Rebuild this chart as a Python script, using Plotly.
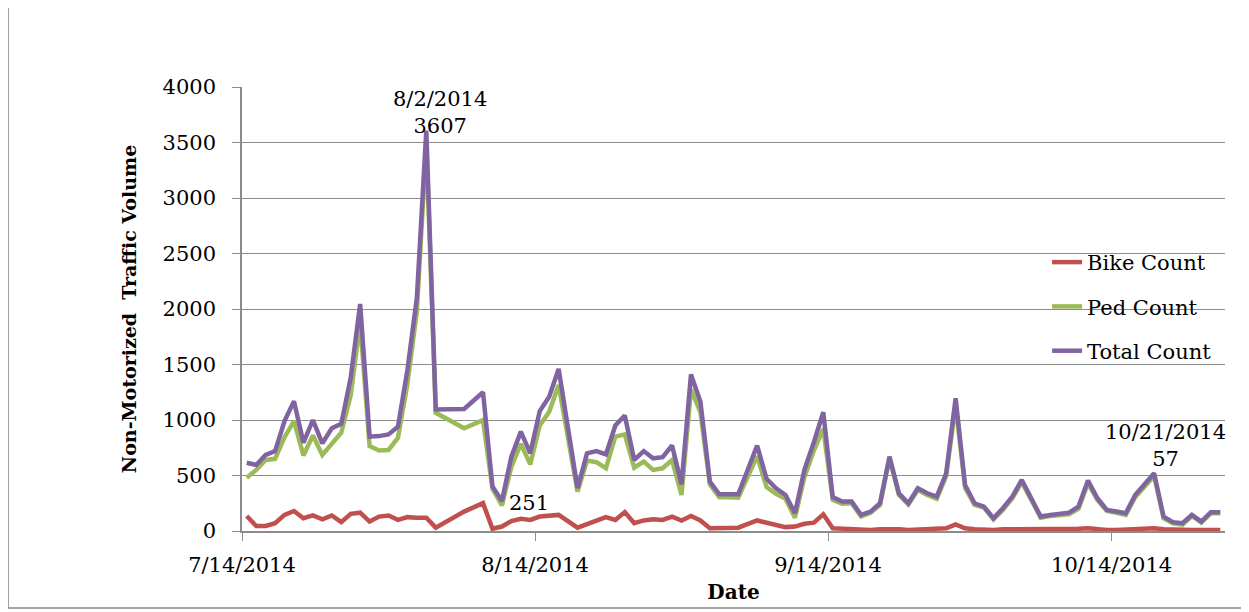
import plotly.graph_objects as go

# daily counts (some days missing in the source, Excel just joins the line across them)
dates = ['2014-07-14', '2014-07-15', '2014-07-16', '2014-07-17', '2014-07-18', '2014-07-19',
         '2014-07-20', '2014-07-21', '2014-07-22', '2014-07-23', '2014-07-24', '2014-07-25',
         '2014-07-26', '2014-07-27', '2014-07-28', '2014-07-29', '2014-07-30', '2014-07-31',
         '2014-08-01', '2014-08-02', '2014-08-03', '2014-08-06', '2014-08-08', '2014-08-09',
         '2014-08-10', '2014-08-11', '2014-08-12', '2014-08-13', '2014-08-14', '2014-08-15',
         '2014-08-16', '2014-08-18', '2014-08-19', '2014-08-20', '2014-08-21', '2014-08-22',
         '2014-08-23', '2014-08-24', '2014-08-25', '2014-08-26', '2014-08-27', '2014-08-28',
         '2014-08-29', '2014-08-30', '2014-08-31', '2014-09-01', '2014-09-02', '2014-09-03',
         '2014-09-04', '2014-09-06', '2014-09-07', '2014-09-08', '2014-09-09', '2014-09-10',
         '2014-09-11', '2014-09-12', '2014-09-13', '2014-09-14', '2014-09-15', '2014-09-16',
         '2014-09-17', '2014-09-18', '2014-09-19', '2014-09-20', '2014-09-21', '2014-09-22',
         '2014-09-23', '2014-09-24', '2014-09-25', '2014-09-26', '2014-09-27', '2014-09-28',
         '2014-09-29', '2014-09-30', '2014-10-01', '2014-10-02', '2014-10-03', '2014-10-04',
         '2014-10-05', '2014-10-06', '2014-10-07', '2014-10-08', '2014-10-09', '2014-10-10',
         '2014-10-11', '2014-10-12', '2014-10-13', '2014-10-14', '2014-10-15', '2014-10-16',
         '2014-10-17', '2014-10-18', '2014-10-19', '2014-10-20', '2014-10-21', '2014-10-22',
         '2014-10-23', '2014-10-24', '2014-10-25']

bike = [135, 45, 45, 70, 145, 180, 115, 140, 105, 140, 80, 155, 165, 85, 130, 140, 100, 125,
        120, 120, 30, 175, 251, 20, 40, 90, 110, 100, 130, 135, 145,
        30, 65, 100, 125, 100, 170, 70, 95, 105, 100, 130, 95, 135, 95,
        25, 25, 25, 30,
        95, 75, 50, 35, 40, 65, 75, 150, 25, 20, 15, 15, 10, 15, 20, 15, 10, 15, 15, 20, 25, 60,
        25, 15, 10,
        10, 15, 15, 20, 15, 10, 10, 15, 15, 20, 25, 15, 10, 10, 15, 20, 30, 25, 15, 10, 13, 10,
        10, 10, 10]

ped = [480, 550, 640, 650, 845, 990, 680, 860, 685, 785, 885, 1225, 1880, 765, 725, 730, 840, 1325,
       1980, 3487, 1065, 925, 999, 380, 230, 580, 785, 600, 950, 1075, 1315,
       355, 635, 620, 565, 850, 870, 570, 625, 550, 565, 640, 325, 1275, 1070,
       420, 305, 305, 300,
       675, 395, 335, 290, 120, 485, 725, 920, 280, 245, 250, 130, 165, 235, 650, 325, 240, 370,
       325, 290, 495, 1135, 390, 235, 210,
       105, 190, 295, 440, 280, 120, 135, 140, 150, 200, 430, 280, 180, 165, 145, 305, 400, 495,
       115, 70, 57, 135, 75, 160, 160]

total = [615, 595, 685, 720, 990, 1170, 795, 1000, 790, 925, 965, 1380, 2045, 850, 855, 870, 940, 1450,
         2100, 3607, 1095, 1100, 1250, 400, 270, 670, 895, 700, 1080, 1210, 1460,
         385, 700, 720, 690, 950, 1040, 640, 720, 655, 665, 770, 420, 1410, 1165,
         445, 330, 330, 330,
         770, 470, 385, 325, 160, 550, 800, 1070, 305, 265, 265, 145, 175, 250, 670, 340, 250, 385,
         340, 310, 520, 1195, 415, 250, 220,
         115, 205, 310, 460, 295, 130, 145, 155, 165, 220, 455, 295, 190, 175, 160, 325, 430, 520,
         130, 80, 70, 145, 85, 170, 170]

tick_labels = ['7/14/2014', '8/14/2014', '9/14/2014', '10/14/2014']
# Excel date axis: ticks sit half a day before the point
tick_pos = ['2014-07-13 12:00', '2014-08-13 12:00', '2014-09-13 12:00', '2014-10-13 12:00']

FONT = 'DejaVu Serif'
GRID = '#8c8c8c'

fig = go.Figure()

series = [('Bike Count', bike, '#C0504D'),
          ('Ped Count', ped, '#9BBB59'),
          ('Total Count', total, '#8064A2')]
for name, vals, col in series:
    fig.add_trace(go.Scatter(x=dates, y=vals, mode='lines', name=name, legendgroup=name,
                             line=dict(color=col, width=4.5)))

# data labels
fig.add_annotation(x='2014-08-02', y=3607, text='8/2/2014<br>3607', showarrow=False,
                   xshift=14, yshift=18, yanchor='middle')
fig.add_annotation(x='2014-08-08', y=251, text='251', showarrow=False,
                   xanchor='left', xshift=24, yanchor='middle')
fig.add_annotation(x='2014-10-21', y=57, text='10/21/2014<br>57', showarrow=False,
                   xshift=-17, yshift=79, yanchor='middle')

# outer chart frame
fig.add_shape(type='rect', xref='paper', yref='paper', x0=-0.238, x1=1.0203, y0=-0.1734, y1=1.18,
              line=dict(color='#8a8a8a', width=1.5), layer='below')

fig.update_layout(
    width=1249, height=612,
    margin=dict(l=234, r=32, t=79, b=89),
    plot_bgcolor='white', paper_bgcolor='white',
    font=dict(family=FONT, size=21, color='black'),
    xaxis=dict(range=['2014-07-13 12:00', '2014-10-25 12:00'], tickvals=tick_pos, ticktext=tick_labels,
               showgrid=False, showline=True, linecolor=GRID, linewidth=1.5,
               ticks='outside', ticklen=8, tickcolor=GRID, ticklabelstandoff=6,
               title=dict(text='<b>Date</b>', font=dict(size=20), standoff=9), automargin=False),
    yaxis=dict(range=[0, 4000], dtick=500, showgrid=True, gridcolor=GRID, gridwidth=1.3,
               zeroline=False, showline=True, linecolor=GRID, linewidth=1.5,
               ticks='outside', ticklen=8, tickcolor=GRID, ticklabelstandoff=12,
               title=dict(text='<b>Non-Motorized  Traffic Volume</b>', font=dict(size=19), standoff=21),
               automargin=False),
    showlegend=True,
    legend=dict(x=0.819, y=0.651, xanchor='left', yanchor='top', bgcolor='rgba(0,0,0,0)',
                tracegroupgap=14, font=dict(size=21)),
)

fig.write_html("out.html")
